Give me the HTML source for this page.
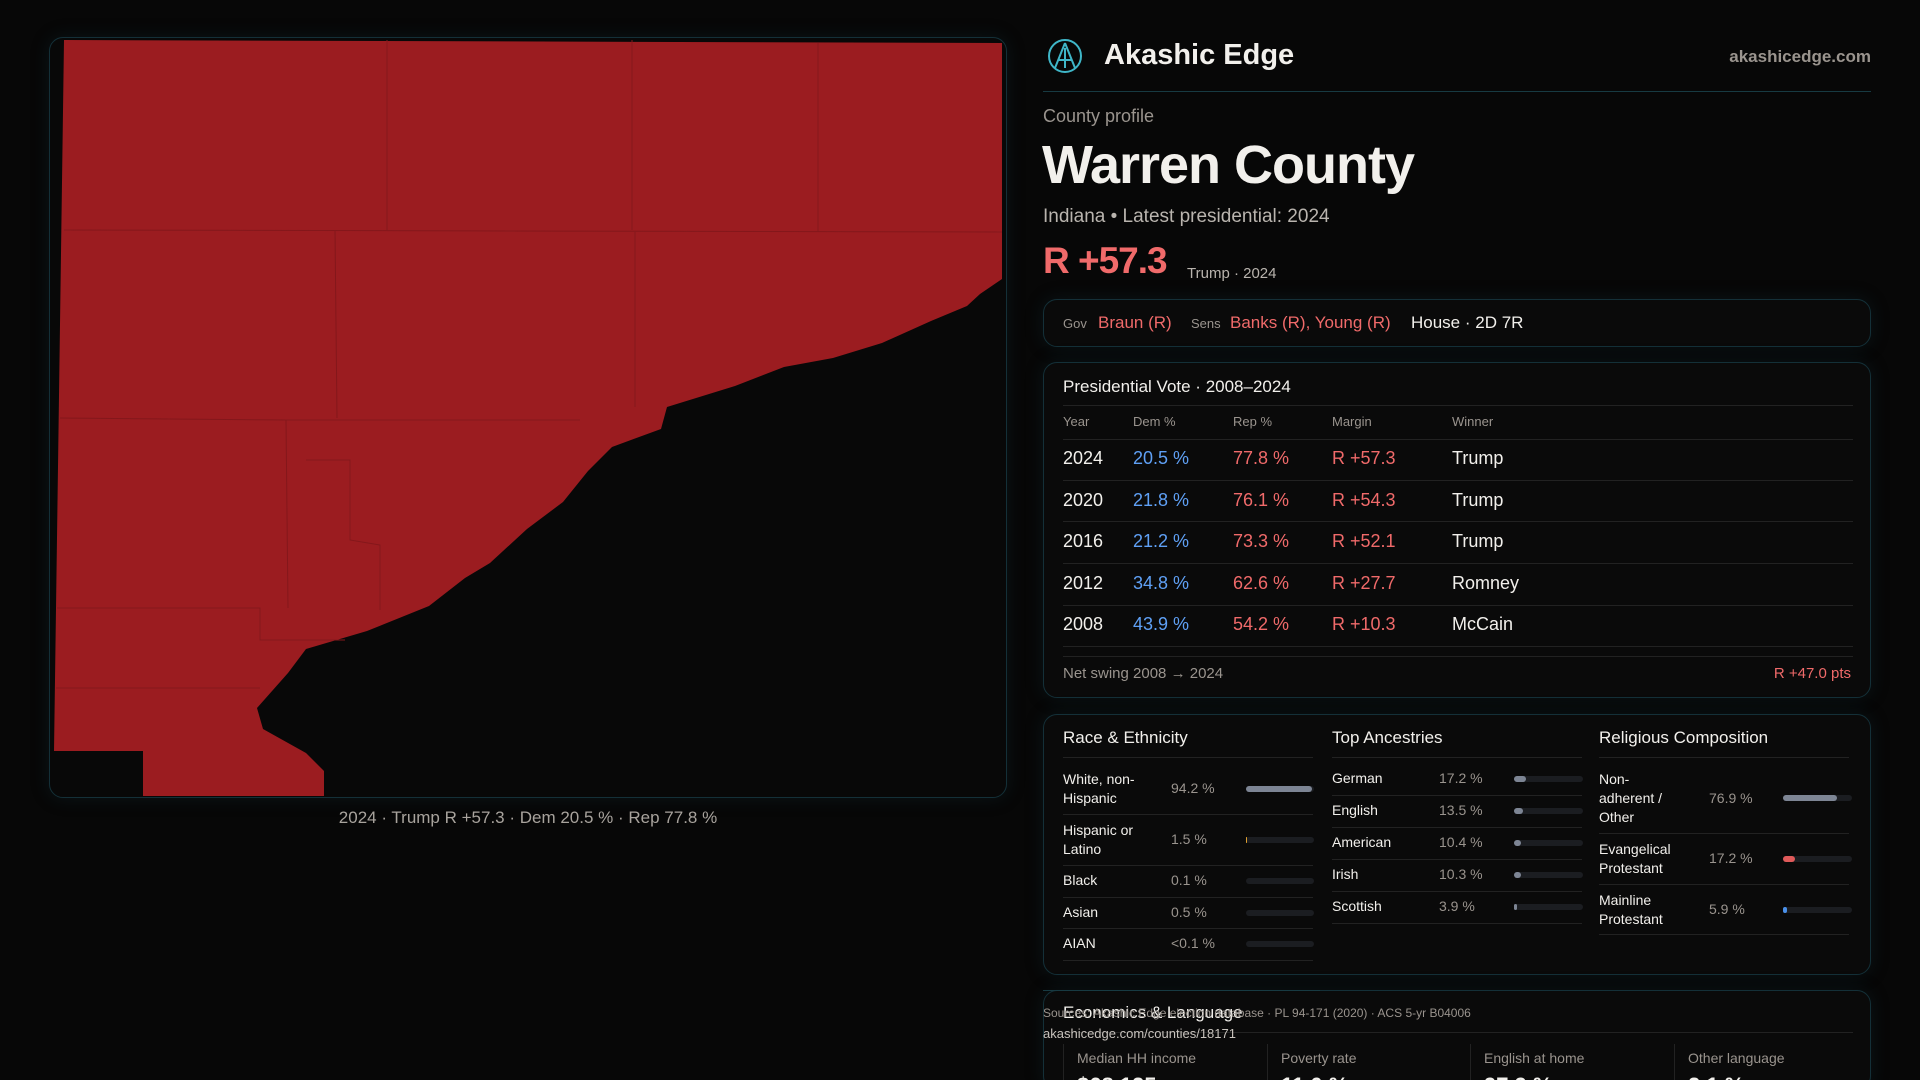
<!DOCTYPE html>
<html><head><meta charset="utf-8"><style>
*{box-sizing:border-box;margin:0;padding:0}
html,body{width:1920px;height:1080px;overflow:hidden}
body{background:#070707;font-family:"Liberation Sans",sans-serif;color:#f2f0ec;position:relative}
.a{position:absolute;white-space:nowrap}
.box{position:absolute;border:1px solid #143038;border-radius:14px;background:#0a0a0a;box-shadow:0 0 18px rgba(20,60,70,.25)}
.hl{position:absolute;height:1px;background:#222}
.m{color:#9a948e}.b{color:#5fa0f5}.r{color:#f06a6a}
.bar{position:absolute;height:6px;border-radius:3px;background:#1b1d21}
.bar i{position:absolute;left:0;top:0;height:6px;border-radius:3px;background:#7d8594}
</style></head><body>
<div class="box" style="left:49px;top:37px;width:958px;height:761px;background:#080808"></div>
<svg class="a" style="left:0;top:0" width="1010" height="800" viewBox="0 0 1010 800">
<polygon fill="#9b1c20" points="64,40 1002,43 1002,279 980,294 967,306 931,321 882,343 833,358 784,367 735,386 667,407 661,429 612,447 588,471 563,502 527,529 490,563 465,578 429,606 367,631 306,649 288,673 257,708 263,729 306,753 324,771 324,796 143,796 143,751 54,751"/>
<g stroke="#84171b" stroke-width="1" fill="none">
<path d="M387,40 L387,230 M632,40 L632,230 M818,43 L818,232 M64,230 L1002,232 M335,230 L337,418 M60,418 L286,420 L288,608 M286,420 L580,420 M635,232 L635,407 M57,608 L260,608 L260,640 L345,640 M56,688 L260,688 M306,460 L350,460 L350,540 L380,545 L380,610"/>
</g></svg>
<div class="a m" style="left:0;width:1056px;top:808px;text-align:center;font-size:17px;color:#a8a39d">2024 · Trump R +57.3 · Dem 20.5 % · Rep 77.8 %</div>

<svg class="a" style="left:1047px;top:38px" width="36" height="36" viewBox="0 0 36 36"><circle cx="18" cy="18" r="16" fill="none" stroke="#3fb6c8" stroke-width="2"/><path d="M18 5 L8 30 M18 5 L28 30 M11 22 L25 22 M18 10 L18 30" stroke="#3fb6c8" stroke-width="2" fill="none"/></svg>
<div class="a" style="left:1104px;top:39px;font-size:29px;font-weight:bold">Akashic Edge</div>
<div class="a m" style="right:49px;top:47px;font-size:17px;font-weight:bold">akashicedge.com</div>
<div class="a" style="left:1043px;top:91px;width:828px;height:1px;background:#173a42"></div>
<div class="a m" style="left:1043px;top:106px;font-size:18px">County profile</div>
<div class="a" style="left:1042px;top:134px;font-size:54px;font-weight:bold;letter-spacing:-1px">Warren County</div>
<div class="a" style="left:1043px;top:206px;font-size:19px;color:#b9b4ae">Indiana • Latest presidential: 2024</div>
<div class="a r" style="left:1043px;top:240px;font-size:37px;font-weight:bold;letter-spacing:-1px">R +57.3</div>
<div class="a" style="left:1187px;top:265px;font-size:15px;color:#b9b4ae">Trump · 2024</div>

<div class="box" style="left:1043px;top:299px;width:828px;height:48px"></div>
<div class="a m" style="left:1063px;top:316px;font-size:13px">Gov</div>
<div class="a r" style="left:1098px;top:313px;font-size:17px">Braun (R)</div>
<div class="a m" style="left:1191px;top:316px;font-size:13px">Sens</div>
<div class="a r" style="left:1230px;top:313px;font-size:17px">Banks (R), Young (R)</div>
<div class="a" style="left:1411px;top:313px;font-size:17px">House · 2D 7R</div>

<div class="box" style="left:1043px;top:362px;width:828px;height:336px"></div>
<div class="a" style="left:1063px;top:377px;font-size:17px">Presidential Vote · 2008–2024</div>
<div class="hl" style="left:1063px;top:405px;width:790px"></div>
<div class="a m" style="left:1063px;top:414px;font-size:13px">Year</div>
<div class="a m" style="left:1133px;top:414px;font-size:13px">Dem %</div>
<div class="a m" style="left:1233px;top:414px;font-size:13px">Rep %</div>
<div class="a m" style="left:1332px;top:414px;font-size:13px">Margin</div>
<div class="a m" style="left:1452px;top:414px;font-size:13px">Winner</div>
<div class="hl" style="left:1063px;top:439px;width:790px"></div>
<div class="a" style="left:1063px;top:448px;font-size:18px">2024</div><div class="a b" style="left:1133px;top:448px;font-size:18px">20.5 %</div><div class="a r" style="left:1233px;top:448px;font-size:18px">77.8 %</div><div class="a r" style="left:1332px;top:448px;font-size:18px">R +57.3</div><div class="a" style="left:1452px;top:448px;font-size:18px">Trump</div>
<div class="hl" style="left:1063px;top:480px;width:790px"></div>
<div class="a" style="left:1063px;top:490px;font-size:18px">2020</div><div class="a b" style="left:1133px;top:490px;font-size:18px">21.8 %</div><div class="a r" style="left:1233px;top:490px;font-size:18px">76.1 %</div><div class="a r" style="left:1332px;top:490px;font-size:18px">R +54.3</div><div class="a" style="left:1452px;top:490px;font-size:18px">Trump</div>
<div class="hl" style="left:1063px;top:521px;width:790px"></div>
<div class="a" style="left:1063px;top:531px;font-size:18px">2016</div><div class="a b" style="left:1133px;top:531px;font-size:18px">21.2 %</div><div class="a r" style="left:1233px;top:531px;font-size:18px">73.3 %</div><div class="a r" style="left:1332px;top:531px;font-size:18px">R +52.1</div><div class="a" style="left:1452px;top:531px;font-size:18px">Trump</div>
<div class="hl" style="left:1063px;top:563px;width:790px"></div>
<div class="a" style="left:1063px;top:573px;font-size:18px">2012</div><div class="a b" style="left:1133px;top:573px;font-size:18px">34.8 %</div><div class="a r" style="left:1233px;top:573px;font-size:18px">62.6 %</div><div class="a r" style="left:1332px;top:573px;font-size:18px">R +27.7</div><div class="a" style="left:1452px;top:573px;font-size:18px">Romney</div>
<div class="hl" style="left:1063px;top:605px;width:790px"></div>
<div class="a" style="left:1063px;top:614px;font-size:18px">2008</div><div class="a b" style="left:1133px;top:614px;font-size:18px">43.9 %</div><div class="a r" style="left:1233px;top:614px;font-size:18px">54.2 %</div><div class="a r" style="left:1332px;top:614px;font-size:18px">R +10.3</div><div class="a" style="left:1452px;top:614px;font-size:18px">McCain</div>
<div class="hl" style="left:1063px;top:646px;width:790px"></div>
<div class="hl" style="left:1063px;top:656px;width:790px"></div>
<div class="a m" style="left:1063px;top:665px;font-size:15px">Net swing 2008 → 2024</div>
<div class="a r" style="left:1700px;width:151px;text-align:right;top:665px;font-size:15px">R +47.0 pts</div>

<div class="box" style="left:1043px;top:714px;width:828px;height:261px"></div>
<div class="a" style="left:1063px;top:728px;font-size:17px">Race &amp; Ethnicity</div>
<div class="a" style="left:1332px;top:728px;font-size:17px">Top Ancestries</div>
<div class="a" style="left:1599px;top:728px;font-size:17px">Religious Composition</div>
<div class="hl" style="left:1063px;top:757px;width:250px"></div>
<div class="hl" style="left:1332px;top:757px;width:250px"></div>
<div class="hl" style="left:1599px;top:757px;width:250px"></div>

<div class="a" style="left:1063px;top:770px;font-size:14px;line-height:19px">White, non-<br>Hispanic</div><div class="a m" style="left:1171px;top:780px;font-size:14px">94.2 %</div><div class="bar" style="left:1246px;top:786px;width:68px"><i style="width:66px"></i></div>
<div class="hl" style="left:1063px;top:814px;width:250px"></div>
<div class="a" style="left:1063px;top:821px;font-size:14px;line-height:19px">Hispanic or<br>Latino</div><div class="a m" style="left:1171px;top:831px;font-size:14px">1.5 %</div><div class="bar" style="left:1246px;top:837px;width:68px"><i style="width:1px;background:#e0a030"></i></div>
<div class="hl" style="left:1063px;top:865px;width:250px"></div>
<div class="a" style="left:1063px;top:872px;font-size:14px">Black</div><div class="a m" style="left:1171px;top:872px;font-size:14px">0.1 %</div><div class="bar" style="left:1246px;top:878px;width:68px"></div>
<div class="hl" style="left:1063px;top:897px;width:250px"></div>
<div class="a" style="left:1063px;top:904px;font-size:14px">Asian</div><div class="a m" style="left:1171px;top:904px;font-size:14px">0.5 %</div><div class="bar" style="left:1246px;top:910px;width:68px"></div>
<div class="hl" style="left:1063px;top:928px;width:250px"></div>
<div class="a" style="left:1063px;top:935px;font-size:14px">AIAN</div><div class="a m" style="left:1171px;top:935px;font-size:14px">&lt;0.1 %</div><div class="bar" style="left:1246px;top:941px;width:68px"></div>
<div class="hl" style="left:1063px;top:960px;width:250px"></div>

<div class="a" style="left:1332px;top:770px;font-size:14px">German</div><div class="a m" style="left:1439px;top:770px;font-size:14px">17.2 %</div><div class="bar" style="left:1514px;top:776px;width:69px"><i style="width:12px"></i></div>
<div class="hl" style="left:1332px;top:795px;width:250px"></div>
<div class="a" style="left:1332px;top:802px;font-size:14px">English</div><div class="a m" style="left:1439px;top:802px;font-size:14px">13.5 %</div><div class="bar" style="left:1514px;top:808px;width:69px"><i style="width:9px"></i></div>
<div class="hl" style="left:1332px;top:827px;width:250px"></div>
<div class="a" style="left:1332px;top:834px;font-size:14px">American</div><div class="a m" style="left:1439px;top:834px;font-size:14px">10.4 %</div><div class="bar" style="left:1514px;top:840px;width:69px"><i style="width:7px"></i></div>
<div class="hl" style="left:1332px;top:859px;width:250px"></div>
<div class="a" style="left:1332px;top:866px;font-size:14px">Irish</div><div class="a m" style="left:1439px;top:866px;font-size:14px">10.3 %</div><div class="bar" style="left:1514px;top:872px;width:69px"><i style="width:7px"></i></div>
<div class="hl" style="left:1332px;top:891px;width:250px"></div>
<div class="a" style="left:1332px;top:898px;font-size:14px">Scottish</div><div class="a m" style="left:1439px;top:898px;font-size:14px">3.9 %</div><div class="bar" style="left:1514px;top:904px;width:69px"><i style="width:3px"></i></div>
<div class="hl" style="left:1332px;top:923px;width:250px"></div>

<div class="a" style="left:1599px;top:770px;font-size:14px;line-height:19px">Non-<br>adherent /<br>Other</div><div class="a m" style="left:1709px;top:790px;font-size:14px">76.9 %</div><div class="bar" style="left:1783px;top:795px;width:69px"><i style="width:54px"></i></div>
<div class="hl" style="left:1599px;top:833px;width:250px"></div>
<div class="a" style="left:1599px;top:840px;font-size:14px;line-height:19px">Evangelical<br>Protestant</div><div class="a m" style="left:1709px;top:850px;font-size:14px">17.2 %</div><div class="bar" style="left:1783px;top:856px;width:69px"><i style="width:12px;background:#e05a5a"></i></div>
<div class="hl" style="left:1599px;top:884px;width:250px"></div>
<div class="a" style="left:1599px;top:891px;font-size:14px;line-height:19px">Mainline<br>Protestant</div><div class="a m" style="left:1709px;top:901px;font-size:14px">5.9 %</div><div class="bar" style="left:1783px;top:907px;width:69px"><i style="width:4px;background:#4a90e8"></i></div>
<div class="hl" style="left:1599px;top:934px;width:250px"></div>

<div class="box" style="left:1043px;top:990px;width:828px;height:100px"></div>
<div class="a" style="left:1043px;top:990px;width:277px;height:1px;background:#173a42"></div>
<div class="a" style="left:1063px;top:1003px;font-size:17px">Economics &amp; Language</div>
<div class="hl" style="left:1063px;top:1032px;width:790px"></div>
<div class="a m" style="left:1043px;top:1006px;font-size:12px">Sources: Akashic Edge election database · PL 94-171 (2020) · ACS 5-yr B04006</div>
<div class="a" style="left:1043px;top:1026px;font-size:13px;color:#c8c3bd">akashicedge.com/counties/18171</div>
<div class="a m" style="left:1077px;top:1050px;font-size:14px">Median HH income</div>
<div class="a m" style="left:1281px;top:1050px;font-size:14px">Poverty rate</div>
<div class="a m" style="left:1484px;top:1050px;font-size:14px">English at home</div>
<div class="a m" style="left:1688px;top:1050px;font-size:14px">Other language</div>
<div class="a" style="left:1063px;top:1044px;width:1px;height:36px;background:#222"></div>
<div class="a" style="left:1267px;top:1044px;width:1px;height:36px;background:#222"></div>
<div class="a" style="left:1470px;top:1044px;width:1px;height:36px;background:#222"></div>
<div class="a" style="left:1674px;top:1044px;width:1px;height:36px;background:#222"></div>
<div class="a" style="left:1077px;top:1073px;font-size:22px;font-weight:bold">$68,125</div>
<div class="a" style="left:1281px;top:1073px;font-size:22px;font-weight:bold">11.0 %</div>
<div class="a" style="left:1484px;top:1073px;font-size:22px;font-weight:bold">97.9 %</div>
<div class="a" style="left:1688px;top:1073px;font-size:22px;font-weight:bold">2.1 %</div>
</body></html>
